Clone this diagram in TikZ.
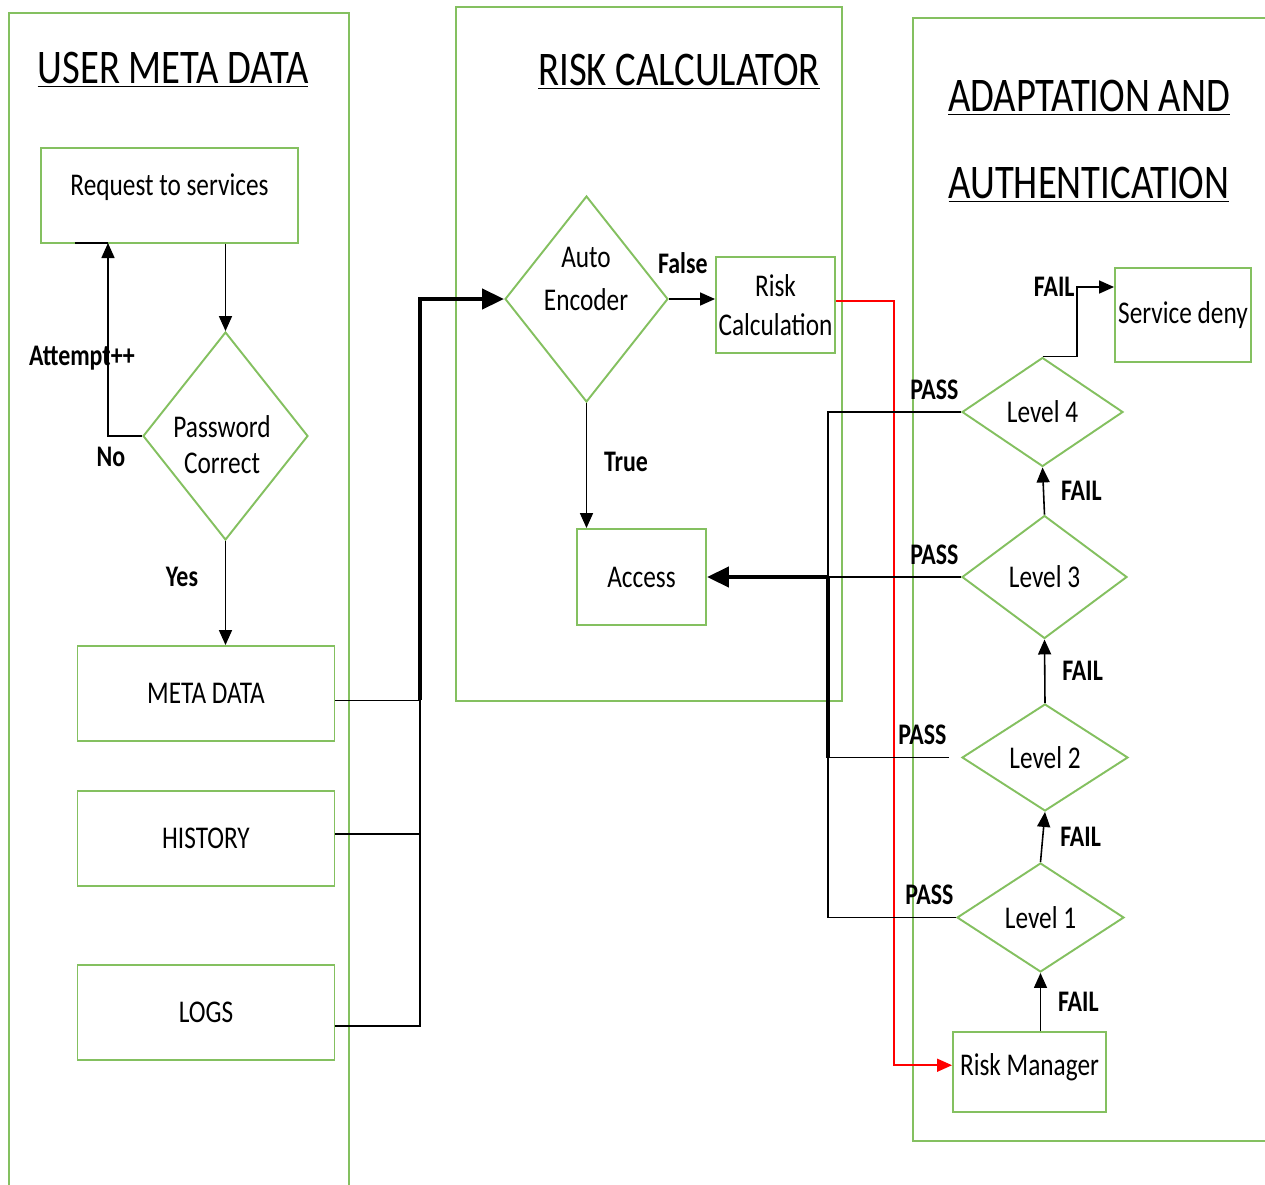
\documentclass[tikz,border=0pt]{standalone}
\usepackage{fontspec}
\setmainfont{Carlito}[FakeStretch=0.8]
\usetikzlibrary{arrows.meta, positioning, shapes.geometric}
\definecolor{boxgreen}{RGB}{132,192,96}
\tikzset{
  panel/.style={draw=boxgreen, line width=0.9pt},
  block/.style={rectangle, draw=boxgreen, line width=1.1pt, align=center, inner sep=1pt, font=\fontsize{18}{22}\selectfont},
  decision/.style={diamond, draw=boxgreen, line width=1.1pt, align=center, inner sep=0pt, font=\fontsize{18}{22}\selectfont},
  decisiontext/.style={align=center, inner sep=0pt, font=\fontsize{18}{20.5}\selectfont},
  heading/.style={font=\fontsize{27.5}{32}\selectfont},
  tag/.style={font=\bfseries\fontsize{17}{20}\selectfont, inner sep=1pt},
  passtag/.style={tag, above left, yshift=0.2cm},
  flowline/.style={line width=0.9pt},
  flowarrow/.style={flowline, -{Triangle[length=3mm,width=2.6mm]}},
  boldline/.style={line width=2.4pt},
  boldarrow/.style={boldline, -{Triangle[length=4.4mm,width=4mm]}},
  riskarrow/.style={line width=0.9pt, red, -{Triangle[length=3mm,width=2.6mm]}}
}

\begin{document}
\begin{tikzpicture}[x=0.02cm, y=-0.02cm]
  \useasboundingbox (0,0) rectangle (1265,1184);
  % the three panels
  \draw[panel] (9,13) rectangle (349,1200);
  \draw[panel] (456,7) rectangle (842,701);
  \draw[panel] (913,18) rectangle (1280,1141);
  \node[heading] (userhead) at (173,70) {\underline{USER META DATA}};
  \node[heading] (riskhead) at (679,72) {\underline{RISK CALCULATOR}};
  \node[heading] (adapthead) at (1089,98) {\underline{ADAPTATION AND}};
  \node[heading] (authhead) at (1089,185) {\underline{AUTHENTICATION}};

  % user meta data
  \node[block, minimum width=5.14cm, minimum height=1.9cm, text depth=0.45cm] (req) at (169.5,195.5) {Request to services};
  \node[decision, minimum width=3.3cm, minimum height=4.16cm] (pw) at (225.5,436) {};
  \node[decisiontext] (pwtext) at (222,445) {Password\\Correct};
  \node[block, minimum width=5.14cm, minimum height=1.9cm] (meta) at (206,693.5) {META DATA};
  \node[block, minimum width=5.14cm, minimum height=1.9cm, below=0.96cm of meta] (history) {HISTORY};
  \node[block, minimum width=5.14cm, minimum height=1.9cm, below=1.54cm of history] (logs) {LOGS};
  \coordinate (loop) at (108,243);
  \coordinate (stub) at (75,243);
  \draw[flowarrow] (pw.north |- req.south) -- (pw.north);
  \draw[flowarrow] (pw.west) -| (loop);
  \draw[flowline] (stub) -- (loop);
  \node[tag] (attempt) at (82,358) {Attempt++};
  \node[tag] (no) at (111,457) {No};
  \draw[flowarrow] (pw.south) -- (pw.south |- meta.north);
  \node[tag] (yes) at (182,577) {Yes};

  % risk calculator
  \node[decision, minimum width=3.26cm, minimum height=4.12cm] (ae) at (586.5,299) {};
  \node[decisiontext, font=\fontsize{18}{24}\selectfont] (aetext) at (586,279) {Auto\\Encoder};
  \node[block, minimum width=2.38cm, minimum height=1.92cm, inner sep=0pt] (rc) at (775.5,305) {Risk\\Calculation};
  \node[block, minimum width=2.58cm, minimum height=1.92cm] (acc) at (641.5,577) {Access};
  \draw[flowarrow] (ae.east) -- (ae.east -| rc.west) node[tag, above=0.45cm, pos=0.3] (false) {False};
  \draw[flowarrow] (ae.south) -- (ae.south |- acc.north) node[tag, right=3mm, pos=0.47] (true) {True};
  \coordinate (busx) at (420,0);
  \coordinate (bus) at (meta.-3 -| busx);
  \draw[flowline] (meta.-3) -- (bus);
  \draw[flowline] (history.2) -- (history.2 -| busx);
  \draw[flowline] (logs.-6) -| (bus);
  \draw[boldarrow] (bus) |- (ae.west);

  % adaptation and authentication
  \node[block, minimum width=3.06cm, minimum height=1.6cm, text depth=0.3cm] (rm) at (1029.5,1072) {Risk Manager};
  \node[decision, aspect=1.5, minimum width=3.34cm, minimum height=2.18cm] (l1) at (1040.5,917.5) {Level 1};
  \node[decision, aspect=1.5, minimum width=3.32cm, minimum height=2.14cm] (l2) at (1045,757.5) {Level 2};
  \node[decision, aspect=1.5, minimum width=3.3cm, minimum height=2.46cm] (l3) at (1044.5,577) {Level 3};
  \node[decision, aspect=1.5, minimum width=3.22cm, minimum height=2.18cm] (l4) at (1042.5,412) {Level 4};
  \node[block, minimum width=2.72cm, minimum height=1.88cm] (sd) at (1183,315) {Service deny};
  \draw[flowarrow] (l1.south |- rm.north) -- (l1.south) node[tag, right=3mm, midway] (fail1) {FAIL};
  \draw[flowarrow] (l1.north) -- (l2.south) node[tag, right=3mm, midway] (fail2) {FAIL};
  \draw[flowarrow] (l2.north) -- (l3.south) node[tag, right=3mm, midway] (fail3) {FAIL};
  \draw[flowarrow] (l3.north) -- (l4.south) node[tag, right=3mm, midway] (fail4) {FAIL};
  \coordinate (turn) at (1077,287);
  \draw[flowarrow] (l4.north) -| (turn) node[tag, left] (fail5) {FAIL} -- (turn -| sd.west);
  \draw[riskarrow] (rc.4) -- (rc.4 -| 894,0) |- (rm.175.5);
  \coordinate (passx) at (828,0);
  \draw[flowline] (l4.west) node[passtag] (pass4) {PASS} -- (l4.west -| passx) |- (l1.west) node[passtag] (pass1) {PASS};
  \draw[flowline] ([xshift=-0.24cm]l2.west) node[passtag] (pass2) {PASS} -- (l2.west -| passx);
  \draw[flowline] (l3.west) node[passtag] (pass3) {PASS} -- (l3.west -| passx);
  \draw[boldline] (l2.west -| passx) -- (l3.west -| passx);
  \draw[boldarrow] (l3.west -| passx) -- (acc.east);
\end{tikzpicture}
\end{document}
